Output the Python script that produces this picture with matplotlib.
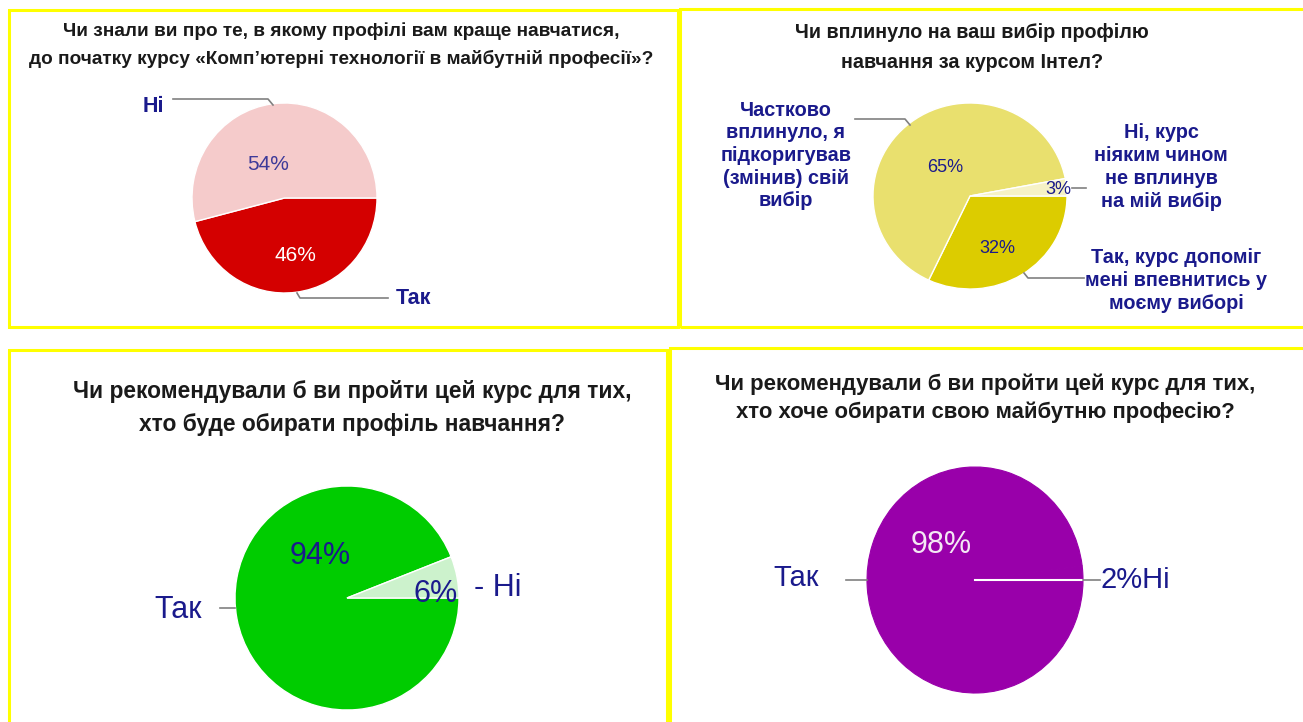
import matplotlib
matplotlib.use("Agg")
import matplotlib.pyplot as plt
from matplotlib.lines import Line2D
from matplotlib.patches import Rectangle
import numpy as np

plt.rcParams['font.family'] = ['Liberation Sans', 'DejaVu Sans']

# --- data ---
q1_title = ["Чи знали ви про те, в якому профілі вам краще навчатися,",
            "до початку курсу «Комп’ютерні технології в майбутній професії»?"]
q1_labels = ["Так", "Ні"]
q1_values = [46, 54]

q2_title = ["Чи вплинуло на ваш вибір профілю",
            "навчання за курсом Інтел?"]
q2_labels = [["Так, курс допоміг", "мені впевнитись у", "моєму виборі"],
             ["Частково", "вплинуло, я", "підкоригував", "(змінив) свій", "вибір"],
             ["Ні, курс", "ніяким чином", "не вплинув", "на мій вибір"]]
q2_values = [32, 65, 3]

q3_title = ["Чи рекомендували б ви пройти цей курс для тих,",
            "хто буде обирати профіль навчання?"]
q3_labels = ["Так", "- Ні"]
q3_values = [94, 6]

q4_title = ["Чи рекомендували б ви пройти цей курс для тих,",
            "хто хоче обирати свою майбутню професію?"]
q4_labels = ["Так", "Ні"]
q4_values = [98, 2]

W, H = 1303, 722
NAVY = '#1a1a8c'
fig = plt.figure(figsize=(W / 100, H / 100), dpi=100)


def fx(x):
    return x / W


def fy(y):
    return 1 - y / H


def txt(x, y, s, **kw):
    kw.setdefault('ha', 'center')
    kw.setdefault('va', 'center')
    fig.text(fx(x), fy(y), s, **kw)


def leader(pts, color='#808080'):
    xs = [fx(p[0]) for p in pts]
    ys = [fy(p[1]) for p in pts]
    fig.add_artist(Line2D(xs, ys, color=color, lw=1.2, transform=fig.transFigure))


def pie_ax(cx, cy, rx, ry, values, colors):
    ax = fig.add_axes([fx(cx - rx), fy(cy + ry), 2 * rx / W, 2 * ry / H])
    wedges, _ = ax.pie(values, colors=colors, startangle=0, counterclock=False,
                       wedgeprops=dict(edgecolor='white', linewidth=1))
    ax.set_aspect('auto')
    ax.set_xlim(-1, 1)
    ax.set_ylim(-1, 1)
    ax.axis('off')
    return ax, wedges


def title(lines, x, ys, size):
    for line, y in zip(lines, ys):
        txt(x, y, line, fontsize=size, fontweight='bold', color='#1a1a1a')


# panel borders
for (x0, y0, x1, y1) in [(9, 10, 678, 327), (680, 9, 1310, 327),
                         (9, 350, 667, 740), (670, 348, 1310, 740)]:
    fig.add_artist(Rectangle((fx(x0), fy(y1)), (x1 - x0) / W, (y1 - y0) / H,
                             transform=fig.transFigure, fill=False,
                             edgecolor='#ffff00', lw=2.2))

# ---- chart 1 ----
title(q1_title, 341, [31, 59], 13.7)
pie_ax(284.5, 198, 92.5, 95, q1_values, ['#d40000', '#f5cbcb'])
txt(295, 255, f"{q1_values[0]}%", fontsize=15, color='white')
txt(268, 164, f"{q1_values[1]}%", fontsize=15, color='#3d3a99')
txt(153, 107, q1_labels[1], fontsize=15.5, fontweight='bold', color=NAVY)
txt(413, 299, q1_labels[0], fontsize=15.5, fontweight='bold', color=NAVY)
leader([(173, 99), (268, 99), (273, 105)])
leader([(297, 293), (300, 298), (388, 298)])

# ---- chart 2 ----
title(q2_title, 972, [33, 62], 14.2)
pie_ax(970, 196, 97, 93, q2_values, ['#dccc00', '#e9e06e', '#f6f2c6'])
txt(997, 248, f"{q2_values[0]}%", fontsize=13, color=NAVY)
txt(945, 167, f"{q2_values[1]}%", fontsize=13, color=NAVY)
txt(1058, 190, f"{q2_values[2]}%", fontsize=13, color=NAVY)
for (cx, y0, lines) in [(1176, 258, q2_labels[0]), (786, 110, q2_labels[1]),
                        (1161, 133, q2_labels[2])]:
    for i, line in enumerate(lines):
        txt(cx, y0 + i * 22.7, line, fontsize=14.3, fontweight='bold', color=NAVY)
leader([(855, 119), (905, 119), (910, 125)])
leader([(1072, 188), (1086, 188)])
leader([(1024, 273), (1028, 278), (1084, 278)])

# ---- chart 3 ----
title(q3_title, 352, [391, 424], 16.4)
pie_ax(347, 598, 112, 112, q3_values, ['#00cc00', '#ccf2cc'])
txt(320, 556, f"{q3_values[0]}%", fontsize=22, color=NAVY)
txt(436, 594, f"{q3_values[1]}%", fontsize=22, color=NAVY)
txt(498, 588, q3_labels[1], fontsize=22, color=NAVY)
txt(178, 610, q3_labels[0], fontsize=22, color=NAVY)
leader([(220, 608), (235, 608)])

# ---- chart 4 ----
title(q4_title, 985, [384, 412], 15.9)
ax4, w4 = pie_ax(975, 580, 108, 113, q4_values, ['#9900aa', '#9900aa'])
for w in w4:
    w.set_edgecolor('#9900aa')
    w.set_linewidth(0.8)
# boundary between the two slices (start angle of "Так")
t = np.deg2rad(w4[0].theta2)
ax4.plot([0, np.cos(t)], [0, np.sin(t)], color='white', lw=1.5)
txt(941, 545, f"{q4_values[0]}%", fontsize=22, color='#f4e8f4')
txt(796, 578, q4_labels[0], fontsize=21, color=NAVY)
txt(1100, 580, f"{q4_values[1]}%{q4_labels[1]}", fontsize=21, color=NAVY, ha='left')
leader([(846, 580), (867, 580)])
leader([(1083, 580), (1100, 580)])

fig.savefig("out.png", dpi=100, facecolor='white')
